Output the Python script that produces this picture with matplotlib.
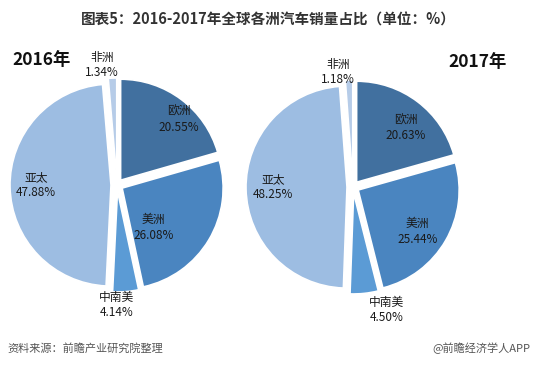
import numpy as np
import matplotlib
matplotlib.use("Agg")
import matplotlib.pyplot as plt

plt.rcParams['font.family'] = ['Noto Sans CJK SC', 'DejaVu Sans']

regions = ["欧洲", "美洲", "中南美", "亚太", "非洲"]
share_2016 = [20.55, 26.08, 4.14, 47.88, 1.34]
share_2017 = [20.63, 25.44, 4.50, 48.25, 1.18]
years = ["2016年", "2017年"]

colors = ["#41709f", "#4a85c0", "#5b9bd5", "#9dbde2", "#b6cce8"]

# label offsets as fraction of pie radius (x, y)
label_pos_2016 = [(0.61, 0.65), (0.36, -0.42), (0.0, -1.19), (-0.80, 0.0), (-0.15, 1.19)]
label_pos_2017 = [(0.52, 0.59), (0.64, -0.44), (0.33, -1.22), (-0.79, 0.0), (-0.15, 1.14)]

W, H = 536, 367
fig = plt.figure(figsize=(W / 100, H / 100), dpi=100)
ax = fig.add_axes([0, 0, 1, 1])

R = 101
EXPL = 6  # pie offsets are in data units (pixels here)


def draw_pie(vals, cx, cy_img, label_pos):
    cy = H - cy_img
    ax.pie(vals, colors=colors, startangle=90, counterclock=False,
           explode=[EXPL] * len(vals), radius=R, center=(cx, cy),
           wedgeprops=dict(edgecolor="white", linewidth=1.2), frame=True)
    for name, v, (dx, dy) in zip(regions, vals, label_pos):
        ax.text(cx + dx * R, cy + dy * R, f"{name}\n{v:.2f}%", ha="center", va="center",
                fontsize=8.5, color="#1a1a1a", linespacing=1.25)


draw_pie(share_2016, 117, 185, label_pos_2016)
draw_pie(share_2017, 353, 187, label_pos_2017)
ax.set_xlim(0, W)
ax.set_ylim(0, H)
ax.set_aspect("auto")
ax.axis("off")

fig.text(0.5, 1 - 20 / H, "图表5：2016-2017年全球各洲汽车销量占比（单位：%）",
         ha="center", va="center", fontsize=10.5, fontweight="bold", color="#333333")
fig.text(12 / W, 1 - 60 / H, years[0], ha="left", va="center", fontsize=12.5,
         fontweight="bold", color="#111111")
fig.text(448 / W, 1 - 62 / H, years[1], ha="left", va="center", fontsize=12.5,
         fontweight="bold", color="#111111")

fig.text(7 / W, 1 - 348 / H, "资料来源：前瞻产业研究院整理", ha="left", va="center",
         fontsize=8, style="italic", color="#555555")
fig.text(530 / W, 1 - 348 / H, "@前瞻经济学人APP", ha="right", va="center",
         fontsize=8, color="#555555")

fig.savefig("out.png", dpi=100)
